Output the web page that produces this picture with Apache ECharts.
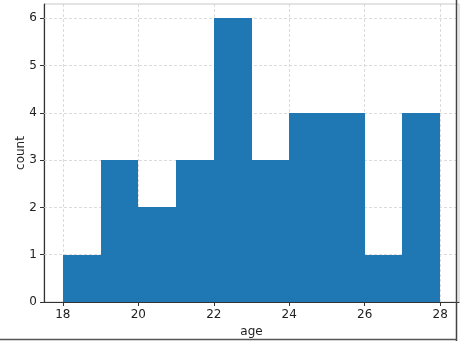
<!DOCTYPE html>
<html>
<head>
<meta charset="utf-8">
<script src="https://cdn.jsdelivr.net/npm/echarts@6/dist/echarts.min.js"></script>
<style>html,body{margin:0;padding:0;background:#fff}#c{width:462px;height:341px}</style>
</head>
<body>
<div id="c"></div>
<script>
// Histogram bins (left edges) and counts
const binStarts = [18, 19, 20, 21, 22, 23, 24, 25, 26, 27];
const binWidth = 1;
const counts = [1, 3, 2, 3, 6, 3, 4, 4, 1, 4];
const xTicks = [18, 20, 22, 24, 26, 28];
const yTicks = [0, 1, 2, 3, 4, 5, 6];
const xLabel = 'age';
const yLabel = 'count';

const chart = echarts.init(document.getElementById('c'), null, {renderer: 'canvas'});
const font = 'DejaVu Sans';
const barData = binStarts.map((s, i) => [s, s + binWidth, counts[i]]);
const gridLines = xTicks.map(v => ({xAxis: v})).concat(yTicks.filter(v => v > 0).map(v => ({yAxis: v})));

chart.setOption({
  animation: false,
  backgroundColor: '#ffffff',
  grid: {left: 44, right: 3, top: 4, bottom: 39, outerBoundsMode: 'none', containLabel: false,
         show: true, borderColor: '#c8c8c8', borderWidth: 1, backgroundColor: 'transparent'},
  xAxis: {
    type: 'value', min: 17.5, max: 28.5,
    name: xLabel, nameLocation: 'middle', nameGap: 24, nameMoveOverlap: false,
    nameTextStyle: {fontFamily: font, fontSize: 12, color: '#222'},
    axisLine: {show: true, onZero: false, lineStyle: {color: '#333', width: 1.2}},
    axisTick: {show: true, length: 4, customValues: xTicks, lineStyle: {color: '#333'}},
    axisLabel: {customValues: xTicks, fontFamily: font, fontSize: 12, color: '#222', margin: 7},
    splitLine: {show: false}
  },
  yAxis: {
    type: 'value', min: 0, max: 6.3,
    name: yLabel, nameLocation: 'middle', nameGap: 17, nameRotate: 90, nameMoveOverlap: false,
    nameTextStyle: {fontFamily: font, fontSize: 12, color: '#222'},
    axisLine: {show: true, lineStyle: {color: '#333', width: 1.2}},
    axisTick: {show: true, length: 4, customValues: yTicks, lineStyle: {color: '#333'}},
    axisLabel: {customValues: yTicks, fontFamily: font, fontSize: 12, color: '#222', margin: 7},
    splitLine: {show: false}
  },
  series: [{
    type: 'line', data: [], z: 1, zlevel: 0,
    markLine: {
      silent: true, symbol: 'none', label: {show: false}, z: 1,
      lineStyle: {color: '#d2d2d2', type: [3, 2], width: 0.8},
      data: gridLines
    }
  }, {
    type: 'custom',
    data: barData,
    encode: {x: [0, 1], y: 2},
    renderItem: function (params, api) {
      const p0 = api.coord([api.value(0), 0]);
      const p1 = api.coord([api.value(1), api.value(2)]);
      const x0 = Math.round(p0[0]), x1 = Math.round(p1[0]);
      const y0 = Math.round(p0[1]), y1 = Math.round(p1[1]);
      return {
        type: 'rect',
        shape: {x: x0, y: y1, width: x1 - x0, height: y0 - y1},
        style: {fill: '#1f77b4'}
      };
    },
    z: 10
  }],
  graphic: [
    {type: 'line', shape: {x1: 456.5, y1: 0, x2: 456.5, y2: 341}, style: {stroke: '#444', lineWidth: 1.5}, z: 100},
    {type: 'line', shape: {x1: 0, y1: 339.5, x2: 457, y2: 339.5}, style: {stroke: '#555', lineWidth: 1.5}, z: 100}
  ]
});
</script>
</body>
</html>
